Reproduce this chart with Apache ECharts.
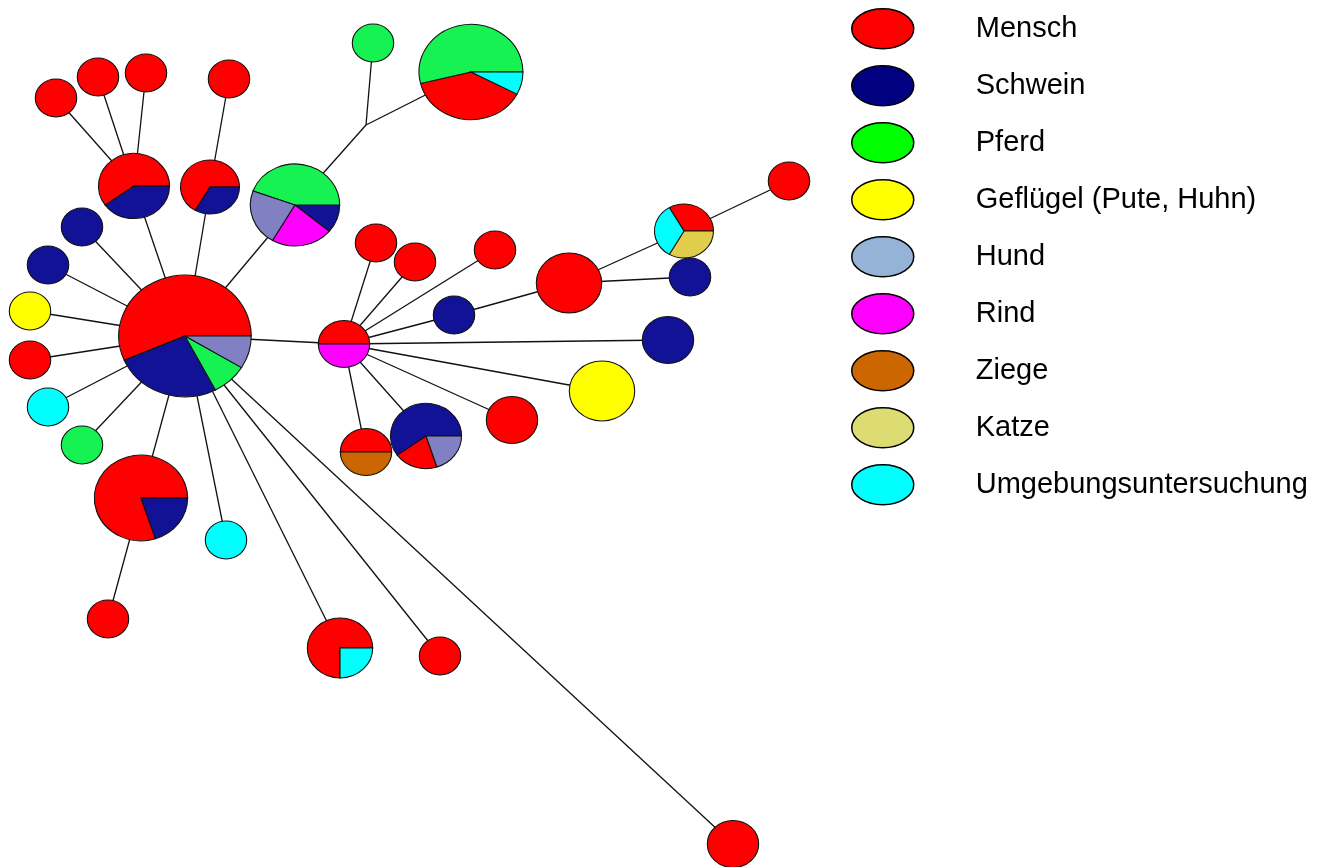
<!DOCTYPE html>
<html>
<head>
<meta charset="utf-8">
<script src="https://cdn.jsdelivr.net/npm/echarts@6/dist/echarts.min.js"></script>
<style>html,body{margin:0;padding:0;background:#fff}#c{width:1327px;height:867px}</style>
</head>
<body>
<div id="c"></div>
<script>
// categories (legend)
const categories = ['Mensch','Schwein','Pferd','Geflügel (Pute, Huhn)','Hund','Rind','Ziege','Katze','Umgebungsuntersuchung'];
const nodeColors   = ['#ff0000','#121296','#17f253','#ffff00','#8080c2','#ff00ff','#cc6600','#dfcd4b','#00ffff'];
const legendColors = ['#ff0000','#000080','#00ff00','#ffff00','#95b3d7','#ff00ff','#cc6600','#dcdc73','#00ffff'];

// node positions (layout coordinates)
const nodePos = [
  [185,336],[134,186],[210,187],[295,205],[366,125],[373,43],[471,72],
  [56,98],[98,77],[146,73],[229,79],
  [82,227],[48,265],[30,311],[30,360],[48,407],[82,445],
  [141,498],[108,619],[226,540],[340,648],[440,656],[733,844],
  [344,344],[376,243],[415,262],[495,250],[454,315],[569,283],
  [684,231],[690,277],[789,181],[668,340],[602,391],[512,420],
  [366,452],[426,436]
];
// node composition: [categoryIndex, count] in drawing order
const nodeParts = [
  [[0,13],[1,6],[2,2],[4,2]], [[0,3],[1,2]], [[0,2],[1,1]], [[2,4],[4,2],[5,2],[1,1]], [], [[2,1]], [[2,7],[0,5],[8,1]],
  [[0,1]],[[0,1]],[[0,1]],[[0,1]],
  [[1,1]],[[1,1]],[[3,1]],[[0,1]],[[8,1]],[[2,1]],
  [[0,8],[1,2]], [[0,1]], [[8,1]], [[0,3],[8,1]], [[0,1]], [[0,2]],
  [[0,1],[5,1]], [[0,1]], [[0,1]], [[0,1]], [[1,1]], [[0,4]],
  [[0,1],[8,1],[7,1]], [[1,1]], [[0,1]], [[1,2]], [[3,4]], [[0,2]],
  [[0,1],[6,1]], [[1,3],[0,1],[4,1]]
];
// tree edges (node index pairs)
const edges = [
  [0,1],[0,2],[0,3],[3,4],[4,5],[4,6],[1,7],[1,8],[1,9],[2,10],
  [0,11],[0,12],[0,13],[0,14],[0,15],[0,16],[0,17],[17,18],[0,19],[0,20],[0,21],[0,22],
  [0,23],[23,24],[23,25],[23,26],[23,27],[27,28],[28,29],[28,30],[29,31],
  [23,32],[23,33],[23,34],[23,35],[23,36]
];

const ASPECT = 1.09;
function nodeRadius(n){ return 8 + 11*Math.sqrt(n); }

// build sector data per category
const sectorData = categories.map(() => []);
nodePos.forEach((p, i) => {
  const parts = nodeParts[i];
  const total = parts.reduce((s, q) => s + q[1], 0);
  if (!total) return;
  const r = nodeRadius(total);
  let acc = 0;
  parts.forEach(([cat, cnt]) => {
    const a1 = acc / total * 360;
    acc += cnt;
    const a2 = acc / total * 360;
    sectorData[cat].push([p[0], p[1], r, a1, a2]);
  });
});
const edgeData = edges.map(([a, b]) => [nodePos[a][0], nodePos[a][1], nodePos[b][0], nodePos[b][1]]);

function renderSector(params, api){
  const c = api.coord([api.value(0), api.value(1)]);
  const ry = Math.abs(api.size([0, api.value(2)])[1]);
  const a1 = api.value(3) * Math.PI / 180, a2 = api.value(4) * Math.PI / 180;
  return {
    type: 'sector',
    shape: { cx: c[0], cy: c[1], r: ry, r0: 0, startAngle: -a2, endAngle: -a1, clockwise: true },
    originX: c[0], originY: c[1], scaleX: ASPECT,
    style: { fill: api.visual('color'), stroke: '#111', lineWidth: 1, strokeNoScale: true }
  };
}
function renderEdge(params, api){
  const p1 = api.coord([api.value(0), api.value(1)]);
  const p2 = api.coord([api.value(2), api.value(3)]);
  return { type: 'line', shape: { x1: p1[0], y1: p1[1], x2: p2[0], y2: p2[1] },
           style: { stroke: '#111', lineWidth: 1.3 } };
}

const ellipseIcon = 'path://M0,20 A31,20 0 1,1 62,20 A31,20 0 1,1 0,20 Z';

const series = [{
  type: 'custom', name: 'edges', coordinateSystem: 'cartesian2d',
  renderItem: renderEdge, data: edgeData, z: 1, silent: true,
  encode: { x: [0, 2], y: [1, 3] }
}];
categories.forEach((name, i) => {
  series.push({
    type: 'custom', name: name, coordinateSystem: 'cartesian2d',
    renderItem: renderSector, data: sectorData[i], z: 2,
    itemStyle: { color: nodeColors[i] },
    encode: { x: 0, y: 1 }
  });
});

const chart = echarts.init(document.getElementById('c'), null, { renderer: 'canvas' });
chart.setOption({
  animation: false,
  backgroundColor: '#ffffff',
  grid: { left: 0, right: 0, top: 0, bottom: 0 },
  xAxis: { type: 'value', min: 0, max: 1327, show: false },
  yAxis: { type: 'value', min: 0, max: 867, inverse: true, show: false },
  legend: {
    orient: 'vertical', left: 851, top: 8, padding: 0,
    itemWidth: 62, itemHeight: 40, itemGap: 15.5,
    selectedMode: false,
    data: categories.map((name, i) => ({
      name: name, icon: ellipseIcon,
      itemStyle: { color: legendColors[i], borderColor: '#000', borderWidth: 1.5 }
    })),
    textStyle: { fontSize: 29, color: '#000', fontFamily: 'Liberation Sans, Arial, sans-serif', padding: [0, 0, 0, 57] }
  },
  series: series
});
</script>
</body>
</html>
